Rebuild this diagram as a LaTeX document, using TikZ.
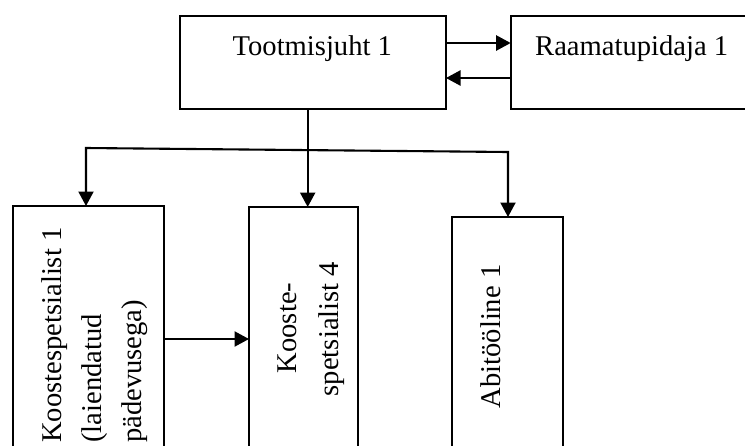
\documentclass[tikz,border=0pt]{standalone}
\usepackage{fontspec}
\setmainfont{Liberation Serif}
\usetikzlibrary{arrows.meta}
\begin{document}
\begin{tikzpicture}[x=1pt,y=-1pt,
  box/.style={draw, line width=2.1pt, inner sep=0pt, outer sep=0pt, anchor=north west},
  lbl/.style={inner sep=0pt, font=\fontsize{28.6}{34}\selectfont},
  vlbl/.style={lbl, rotate=90},
  tip/.style={Triangle[length=14.5pt,width=15pt]},
  link/.style={line width=2.3pt, -{Triangle[length=14.5pt,width=15pt]}},
  twoway/.style={line width=2.1pt, {Triangle[length=14.5pt,width=15pt]}-{Triangle[length=14.5pt,width=15pt]}}]
\useasboundingbox (0,0) rectangle (745,445);

% boxes
\node[box, minimum width=266pt, minimum height=93.3pt] (t) at (180,15.7) {};
\node[box, minimum width=245pt, minimum height=93.3pt] (r) at (510.7,15.7) {};
\node[box, minimum width=151pt, minimum height=270pt] (k1) at (13,206) {};
\node[box, minimum width=109pt, minimum height=270pt] (k4) at (249,207) {};
\node[box, minimum width=111pt, minimum height=260pt] (a1) at (452,217) {};

% labels
\node[lbl, anchor=base] (tt) at (312.3,55) {Tootmisjuht 1};
\node[lbl, anchor=base west] (rt) at (535,55) {Raamatupidaja 1};
\node[vlbl, anchor=base west] (k1a) at (61,443) {Koostespetsialist 1};
\node[vlbl, anchor=base west] (k1b) at (101,443) {(laiendatud};
\node[vlbl, anchor=base west] (k1c) at (141,443) {pädevusega)};
\node[vlbl, anchor=base] (k4a) at (296.5,328) {Kooste-};
\node[vlbl, anchor=base] (k4b) at (338,329) {spetsialist 4};
\node[vlbl, anchor=base] (a1a) at (500,336.5) {Abitööline 1};

% helper coordinates
\coordinate (ytop) at (0,43);
\coordinate (ybot) at (0,78);
\coordinate (ymid) at (0,339);
\coordinate (trunk) at (307.7,0);
\coordinate (bl) at (86,148);
\coordinate (br) at (508,152);

% connectors
\draw[link] (t.east |- ytop) -- (r.west |- ytop);
\draw[link] (r.west |- ybot) -- (t.east |- ybot);
\draw[link] (trunk |- t.south) -- (trunk |- k4.north);
\draw[twoway] (bl |- k1.north) -- (bl) -- (br) -- (br |- a1.north);
\draw[link] (k1.east |- ymid) -- (k4.west |- ymid);
\end{tikzpicture}
\end{document}
